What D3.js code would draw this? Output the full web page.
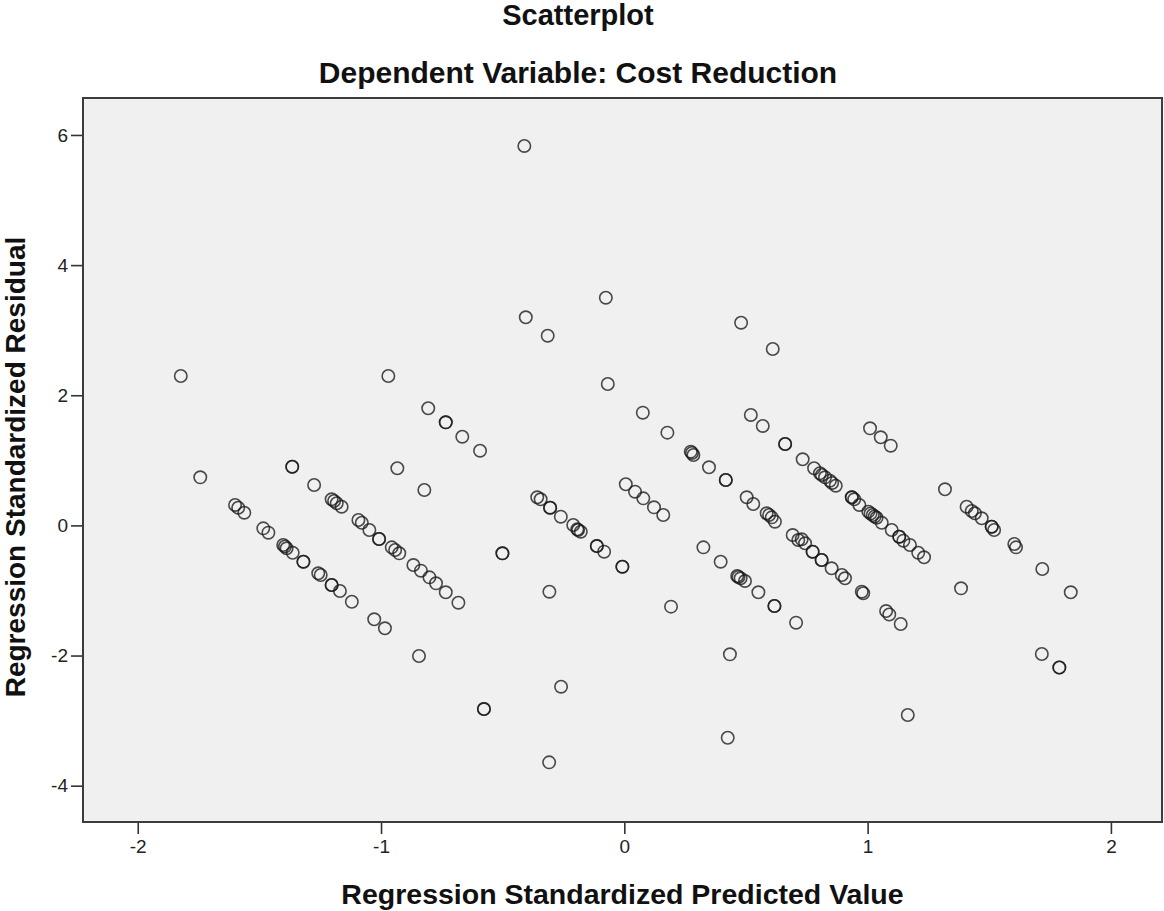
<!DOCTYPE html>
<html>
<head>
<meta charset="utf-8">
<script src="https://cdn.jsdelivr.net/npm/d3@7"></script>
<style>
  body { margin: 0; background: #ffffff; }
  text { font-family: "Liberation Sans", Arial, sans-serif; }
</style>
</head>
<body>
<div id="scatter"></div>
<script>
// Regression residual scatterplot (SPSS style)

// Data: standardized predicted value / standardized residual
var predicted = [
  -1.823, -0.970, -0.806, -0.734, -0.734, -0.666, -0.593, -1.365, -1.365, -0.933,
  -1.743, -1.275, -0.822, -1.203, -1.193, -1.182, -1.162, -1.600, -1.587, -1.562,
  -1.093, -1.079, -1.048, -1.008, -1.008, -0.956, -0.942, -0.925, -0.867, -0.836,
  -0.801, -0.774, -0.734, -0.682, -1.484, -1.463, -1.402, -1.395, -1.388, -1.363,
  -1.319, -1.319, -1.258, -1.248, -1.203, -1.203, -1.169, -1.120, -1.028, -0.984,
  -0.068, 0.076, 0.177, 0.273, 0.278, 0.284, 0.348, 0.417, 0.417, 0.503,
  0.530, 0.585, 0.595, 0.606, 0.619, 0.692, 0.715, 0.729, 0.743, 0.774,
  0.774, 0.811, 0.811, 0.852, 0.894, 0.907, 0.520, 0.569, 0.661, 0.661,
  0.733, -0.358, -0.344, -0.305, -0.305, -0.261, -0.210, -0.193, -0.190, -0.179,
  -0.113, -0.113, -0.083, -0.008, -0.008, 0.006, 0.044, 0.078, 0.122, 0.160,
  -0.501, -0.501, -0.308, 0.192, 0.325, 0.396, 0.464, 0.469, 0.478, 0.496,
  0.551, 0.617, 0.617, 0.706, 0.434, -0.260, 1.010, 1.054, 1.095, 0.780,
  0.804, 0.812, 0.825, 0.845, 0.854, 0.869, 0.935, 0.935, 0.945, 0.966,
  1.003, 1.012, 1.021, 1.029, 1.037, 1.058, 1.099, 1.130, 1.130, 1.147,
  1.174, 1.208, 1.232, 1.318, 1.407, 1.428, 1.441, 1.469, 1.510, 1.510,
  1.520, 1.603, 1.610, 1.718, 1.835, 1.384, 1.716, 1.788, 1.788, 0.976,
  0.982, 1.076, 1.089, 1.136, 1.165, -0.411, -0.076, -0.405, -0.315, 0.480,
  0.610, -0.844, -0.577, -0.577, -0.309, 0.425
];

var residual = [
  2.296, 2.296, 1.800, 1.584, 1.584, 1.363, 1.148, 0.902, 0.902, 0.878,
  0.739, 0.621, 0.544, 0.401, 0.375, 0.340, 0.287, 0.314, 0.272, 0.195,
  0.083, 0.041, -0.071, -0.209, -0.209, -0.337, -0.378, -0.429, -0.609, -0.696,
  -0.798, -0.890, -1.028, -1.188, -0.045, -0.112, -0.301, -0.324, -0.352, -0.420,
  -0.558, -0.558, -0.736, -0.762, -0.916, -0.916, -1.008, -1.173, -1.443, -1.581,
  2.173, 1.732, 1.425, 1.133, 1.113, 1.082, 0.893, 0.698, 0.698, 0.432,
  0.329, 0.186, 0.160, 0.124, 0.057, -0.148, -0.224, -0.214, -0.275, -0.404,
  -0.404, -0.532, -0.532, -0.659, -0.762, -0.813, 1.697, 1.528, 1.251, 1.251,
  1.016, 0.432, 0.401, 0.272, 0.272, 0.134, 0.006, -0.060, -0.071, -0.097,
  -0.317, -0.317, -0.404, -0.635, -0.635, 0.632, 0.518, 0.416, 0.278, 0.160,
  -0.429, -0.429, -1.019, -1.249, -0.337, -0.558, -0.778, -0.793, -0.813, -0.854,
  -1.028, -1.239, -1.239, -1.495, -1.981, -2.479, 1.492, 1.354, 1.225, 0.878,
  0.801, 0.775, 0.739, 0.687, 0.652, 0.610, 0.432, 0.432, 0.401, 0.314,
  0.211, 0.183, 0.160, 0.137, 0.118, 0.041, -0.071, -0.174, -0.174, -0.235,
  -0.301, -0.420, -0.490, 0.555, 0.287, 0.221, 0.186, 0.109, -0.020, -0.020,
  -0.071, -0.286, -0.337, -0.670, -1.028, -0.967, -1.976, -2.184, -2.184, -1.019,
  -1.043, -1.316, -1.369, -1.515, -2.914, 5.831, 3.499, 3.198, 2.915, 3.115,
  2.711, -2.007, -2.822, -2.822, -3.641, -3.263
];

var xTicks = [-2, -1, 0, 1, 2];
var yTicks = [-4, -2, 0, 2, 4, 6];

var chartTitle = "Scatterplot";
var chartSubtitle = "Dependent Variable: Cost Reduction";
var xLabel = "Regression Standardized Predicted Value";
var yLabel = "Regression Standardized Residual";

// SVG area
var svgWidth = 1164;
var svgHeight = 911;

var margin = { top: 98, right: 2, bottom: 89, left: 83 };
var width = svgWidth - margin.left - margin.right;
var height = svgHeight - margin.top - margin.bottom;

var svg = d3.select("#scatter")
  .append("svg")
  .attr("width", svgWidth)
  .attr("height", svgHeight);

var chartGroup = svg.append("g")
  .attr("transform", `translate(${margin.left}, ${margin.top})`);

var points = d3.zip(predicted, residual);

// scales
var xScale = d3.scaleLinear()
  .domain([-2.225, 2.21])
  .range([0, width]);

var yScale = d3.scaleLinear()
  .domain([-4.558, 6.568])
  .range([height, 0]);

// plot background
chartGroup.append("rect")
  .attr("width", width)
  .attr("height", height)
  .attr("fill", "#f0f0f0");

// axes (plain hyphen minus like the original)
var bottomAxis = d3.axisBottom(xScale).tickValues(xTicks).tickSize(12).tickPadding(6).tickFormat(d => String(d));
var leftAxis = d3.axisLeft(yScale).tickValues(yTicks).tickSize(12).tickPadding(3).tickFormat(d => String(d));

var xAxisG = chartGroup.append("g")
  .attr("transform", `translate(0, ${height})`)
  .call(bottomAxis);

var yAxisG = chartGroup.append("g")
  .call(leftAxis);

[xAxisG, yAxisG].forEach(function(g) {
  g.select(".domain").remove();
  g.selectAll(".tick line").attr("stroke", "#333").attr("stroke-width", 1.6);
  g.selectAll(".tick text")
    .attr("fill", "#222")
    .attr("font-size", "19px")
    .attr("font-family", "Liberation Sans, Arial, sans-serif");
});

// points
chartGroup.selectAll("circle.pt")
  .data(points)
  .enter()
  .append("circle")
  .attr("class", "pt")
  .attr("cx", d => xScale(d[0]))
  .attr("cy", d => yScale(d[1]))
  .attr("r", 6.2)
  .attr("fill", "none")
  .attr("stroke", "#1a1a1a")
  .attr("stroke-opacity", 0.78)
  .attr("stroke-width", 1.6);

// frame
chartGroup.append("rect")
  .attr("width", width)
  .attr("height", height)
  .attr("fill", "none")
  .attr("stroke", "#3c3c3c")
  .attr("stroke-width", 2);

// titles
svg.append("text")
  .attr("x", 578)
  .attr("y", 25)
  .attr("text-anchor", "middle")
  .attr("font-size", "29px")
  .attr("font-weight", "bold")
  .attr("fill", "#111")
  .text(chartTitle);

svg.append("text")
  .attr("x", 578)
  .attr("y", 83)
  .attr("text-anchor", "middle")
  .attr("font-size", "30px")
  .attr("font-weight", "bold")
  .attr("fill", "#111")
  .text(chartSubtitle);

// axis labels
svg.append("text")
  .attr("x", margin.left + width / 2)
  .attr("y", 904)
  .attr("text-anchor", "middle")
  .attr("font-size", "28.5px")
  .attr("font-weight", "bold")
  .attr("fill", "#111")
  .text(xLabel);

svg.append("text")
  .attr("transform", "translate(25, 467) rotate(-90)")
  .attr("text-anchor", "middle")
  .attr("font-size", "28px")
  .attr("font-weight", "bold")
  .attr("fill", "#111")
  .text(yLabel);
</script>
</body>
</html>
